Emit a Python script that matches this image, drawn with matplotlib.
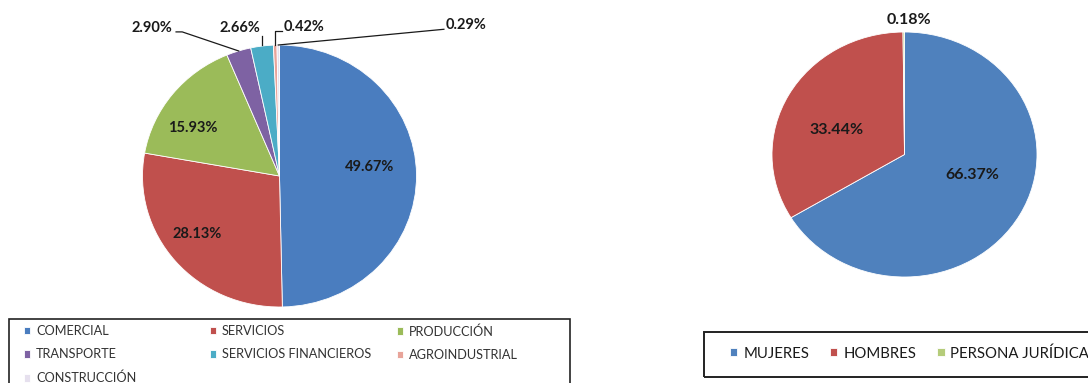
import numpy as np
import matplotlib.pyplot as plt
from matplotlib.patches import Rectangle

plt.rcParams['font.family'] = ['Lato', 'DejaVu Sans']

# Actividad economica de los socios
sectores = ['COMERCIAL', 'SERVICIOS', 'PRODUCCIÓN', 'TRANSPORTE',
            'SERVICIOS FINANCIEROS', 'AGROINDUSTRIAL', 'CONSTRUCCIÓN']
pct_sectores = [49.67, 28.13, 15.93, 2.90, 2.66, 0.42, 0.29]
col_sectores = ['#4a7dbf', '#c0504d', '#9bbb59', '#7e62a3',
                '#4bacc6', '#e8a49a', '#e6e0ee']

# Genero de los socios
genero = ['MUJERES', 'HOMBRES', 'PERSONA JURÍDICA']
pct_genero = [66.37, 33.44, 0.18]
col_genero = ['#4f81bd', '#c0504d', '#b5cc7a']

W, H = 1088, 383
fig = plt.figure(figsize=(W / 100, H / 100), dpi=100)


def px_axes(cx, cy, rx, ry):
    # axes que cubre justo el circulo (en pixeles de la imagen)
    ax = fig.add_axes([(cx - rx) / W, 1 - (cy + ry) / H, 2 * rx / W, 2 * ry / H])
    return ax


def borde(w):
    m = np.deg2rad((w.theta1 + w.theta2) / 2)
    return np.cos(m), np.sin(m)


txt = dict(fontsize=10.5, fontweight='bold', color='#1a1a1a', clip_on=False)
linea = dict(color='#1a1a1a', lw=0.9, clip_on=False)

# %% pie izquierdo
ax1 = px_axes(279.5, 176, 137, 131)
w1, _ = ax1.pie(pct_sectores, colors=col_sectores, startangle=90, counterclock=False,
                wedgeprops=dict(edgecolor='white', linewidth=0.6))
ax1.set_aspect('auto')
ax1.set_xlim(-1, 1)
ax1.set_ylim(-1, 1)
ax1.axis('off')

etiq1 = [f'{v:.2f}%' for v in pct_sectores]
ax1.text(0.66, 0.07, etiq1[0], ha='center', va='center', **txt)
ax1.text(-0.60, -0.44, etiq1[1], ha='center', va='center', **txt)
ax1.text(-0.63, 0.37, etiq1[2], ha='center', va='center', **txt)

# etiquetas con lineas guia
ex, ey = borde(w1[3])
ax1.text(-0.78, 1.13, etiq1[3], ha='right', va='center', **txt)
ax1.plot([-0.755, -0.71, ex], [1.10, 1.10, ey], **linea)

ex, ey = borde(w1[4])
ax1.text(-0.29, 1.13, etiq1[4], ha='center', va='center', **txt)
ax1.plot([ex, ex], [1.065, ey + 0.005], **linea)

ex, ey = borde(w1[5])
ax1.text(0.03, 1.14, etiq1[5], ha='left', va='center', **txt)
ax1.plot([0.02, ex, ex], [1.105, 1.105, ey], **linea)

ex, ey = borde(w1[6])
ax1.text(1.21, 1.15, etiq1[6], ha='left', va='center', **txt)
ax1.plot([1.20, ex], [1.12, ey], **linea)

# leyenda izquierda: tres columnas
cols_x = [24, 210, 397]
for c in range(3):
    idx = list(range(c, len(sectores), 3))
    fig.legend([w1[i] for i in idx], [sectores[i] for i in idx],
               loc='upper left', bbox_to_anchor=(cols_x[c] / W, 1 - 325 / H),
               frameon=False, fontsize=9.2, handlelength=0.5, handleheight=0.5,
               handletextpad=0.45, labelspacing=0.9, borderpad=0, borderaxespad=0,
               labelcolor='#333333')
fig.add_artist(Rectangle((9 / W, 1 - 395 / H), 561 / W, 76 / H, transform=fig.transFigure,
                         fill=False, lw=1.2, ec='#222222'))

# %% pie derecho
ax2 = px_axes(904.5, 154.5, 132.5, 122.5)
w2, _ = ax2.pie(pct_genero, colors=col_genero, startangle=90, counterclock=False,
                wedgeprops=dict(edgecolor='white', linewidth=0.6))
ax2.set_aspect('auto')
ax2.set_xlim(-1, 1)
ax2.set_ylim(-1, 1)
ax2.axis('off')

etiq2 = [f'{v:.2f}%' for v in pct_genero]
txt2 = dict(txt, fontsize=11.5)
ax2.text(0.51, -0.17, etiq2[0], ha='center', va='center', **txt2)
ax2.text(-0.51, 0.20, etiq2[1], ha='center', va='center', **txt2)
ax2.text(0.03, 1.10, etiq2[2], ha='center', va='center', **txt2)

fig.legend(w2, genero, ncol=3, loc='upper left', bbox_to_anchor=(730 / W, 1 - 346 / H),
           frameon=False, fontsize=10.7, handlelength=0.5, handleheight=0.5,
           handletextpad=0.4, columnspacing=1.4, borderpad=0, borderaxespad=0,
           labelcolor='#1a1a1a')
fig.add_artist(Rectangle((704 / W, 1 - 377 / H), 420 / W, 45 / H, transform=fig.transFigure,
                         fill=False, lw=1.4, ec='#222222'))

fig.savefig('out.png', dpi=100)
